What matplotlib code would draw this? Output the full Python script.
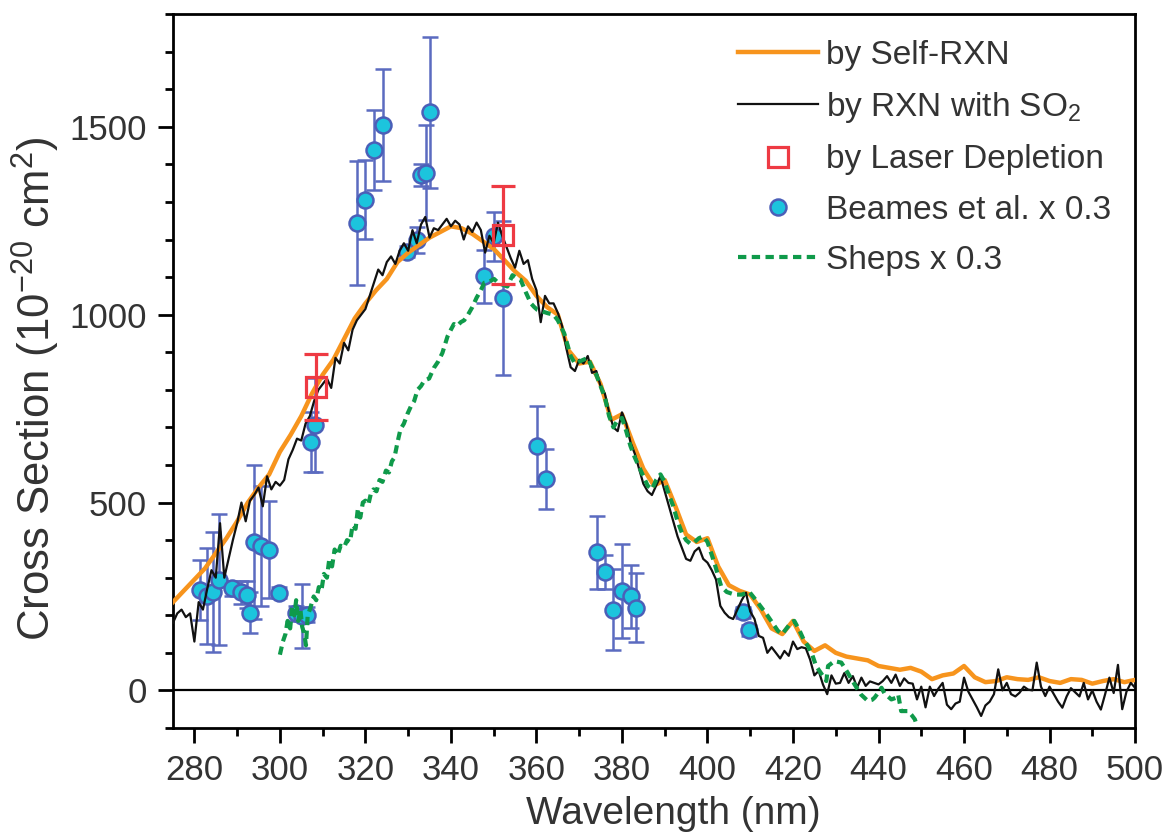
import numpy as np
import matplotlib.pyplot as plt
from matplotlib.lines import Line2D

plt.rcParams['font.family'] = ['Liberation Sans', 'DejaVu Sans']
plt.rcParams['mathtext.fontset'] = 'custom'
plt.rcParams['mathtext.rm'] = 'Liberation Sans'
plt.rcParams['mathtext.it'] = 'Liberation Sans:italic'

TXT = '#333333'

# by Self-RXN (orange), 2.5 nm steps from 275 nm
self_wl = np.arange(275, 500.1, 2.5)
self_cs = [235, 265, 295, 325, 365, 405, 450, 500, 540, 575,
           635, 680, 730, 790, 840, 880, 935, 990, 1030, 1065,
           1095, 1140, 1165, 1185, 1205, 1220, 1235, 1230, 1215, 1195,
           1175, 1145, 1115, 1090, 1050, 1020, 1000, 905, 870, 875,
           815, 720, 735, 660, 590, 545, 560, 490, 415, 395,
           405, 330, 280, 265, 255, 215, 165, 150, 185, 130,
           105, 120, 100, 90, 85, 80, 65, 60, 55, 60,
           50, 30, 40, 45, 65, 35, 22, 25, 35, 30,
           28, 35, 25, 20, 30, 28, 18, 25, 30, 22, 28]

# by RXN with SO2 (black), 1 nm steps from 275 nm
so2_wl = np.arange(275, 501)
so2_cs = [180, 205, 215, 195, 205, 130, 235, 215, 270, 320,
          300, 445, 300, 350, 400, 445, 500, 450, 505, 520,
          540, 490, 570, 535, 555, 545, 560, 615, 640, 670,
          665, 710, 730, 770, 800, 815, 830, 805, 885, 870,
          925, 905, 960, 985, 1000, 1015, 1050, 1085, 1120, 1105,
          1140, 1155, 1135, 1170, 1190, 1170, 1225, 1190, 1240, 1260,
          1205, 1230, 1225, 1240, 1255, 1235, 1250, 1240, 1200, 1235,
          1220, 1245, 1225, 1165, 1210, 1190, 1245, 1210, 1180, 1150,
          1125, 1170, 1135, 1145, 1095, 1065, 980, 1050, 1030, 1030,
          1005, 970, 910, 860, 850, 880, 870, 890, 845, 850,
          810, 790, 740, 700, 690, 740, 710, 660, 630, 590,
          550, 530, 520, 545, 570, 530, 490, 450, 410, 380,
          350, 345, 370, 380, 350, 340, 320, 295, 225, 207,
          195, 190, 215, 240, 260, 210, 190, 145, 140, 100,
          115, 100, 85, 105, 92, 130, 110, 115, 112, 82,
          40, 52, 16, -10, 40, 18, 20, 46, 20, 38,
          8, 34, 12, 24, 20, 16, 25, 38, 20, 42,
          12, 32, 20, 18, -24, 10, -45, 10, -15, 5,
          20, -38, -50, -35, -30, 34, -3, -24, -45, -68,
          -40, -30, -10, 56, 0, 20, -10, -16, -6, 10,
          2, 0, 74, 10, -15, 10, -10, -30, -46, -16,
          6, -5, -16, 20, -24, 0, -30, -51, -10, 34,
          -7, 68, -50, -3, 20, 7]

# Sheps x 0.3 (green dotted)
sheps_wl = [300.0, 300.7, 301.3, 301.8, 302.4, 302.9, 303.4, 303.8, 304.3, 304.8,
            305.2, 305.7, 306.1, 306.5, 307.0, 307.9, 308.5, 309.1, 309.7, 310.3,
            311.0, 311.5, 312.2, 312.8, 313.5, 314.2, 315.0, 315.7, 316.4, 317.0,
            317.7, 318.2, 318.8, 319.4, 320.0, 320.7, 321.3, 321.9, 322.6, 323.3,
            324.0, 324.8, 325.5, 326.2, 326.8, 327.5, 328.2, 329.0, 329.8, 330.6,
            331.4, 332.2, 333.0, 333.8, 334.9, 335.5, 336.0, 337.0, 338.0, 338.6,
            339.2, 340.0, 340.7, 341.5, 342.3, 343.1, 344.0, 345.0, 346.0, 347.0,
            347.8, 349.0, 350.1, 351.0, 352.0, 353.2, 354.4, 355.3, 356.3, 357.5,
            358.7, 359.5, 360.2, 361.5, 362.6, 364.0, 365.0, 366.5, 368.0, 369.0,
            370.0, 371.0, 372.0, 373.0, 374.0, 375.0, 376.0, 377.0, 378.0, 379.0,
            380.0, 381.0, 382.0, 383.0, 384.0, 385.0, 386.0, 387.0, 388.0, 389.0,
            390.0, 391.0, 392.0, 393.0, 394.0, 395.0, 396.0, 397.0, 398.0, 399.0,
            400.0, 401.6, 403.2, 404.5, 406.3, 408.0, 409.8, 411.0, 411.8, 413.0,
            414.1, 415.3, 416.5, 417.5, 418.5, 419.5, 420.3, 421.5, 422.5, 423.5,
            424.5, 425.4, 426.6, 427.8, 428.2, 429.7, 431.3, 432.8, 434.4, 435.9,
            437.5, 438.5, 439.1, 440.0, 440.7, 441.4, 443.0, 444.0, 444.6, 445.3,
            446.9, 447.7, 448.5, 449.0]
sheps_cs = [95, 130, 150, 185, 165, 225, 200, 240, 185, 215,
            170, 150, 120, 200, 215, 250, 240, 275, 265, 310,
            300, 345, 330, 375, 360, 385, 380, 400, 395, 440,
            430, 480, 460, 500, 505, 495, 525, 535, 530, 560,
            555, 585, 580, 610, 620, 660, 695, 710, 735, 755,
            770, 800, 810, 825, 830, 845, 858, 875, 898, 920,
            942, 960, 975, 970, 980, 985, 1000, 1020, 1045, 1065,
            1085, 1088, 1095, 1085, 1080, 1075, 1105, 1098, 1093, 1060,
            1030, 1020, 1013, 1008, 1004, 1000, 985, 950, 890, 870,
            875, 880, 885, 860, 840, 810, 780, 730, 700, 720,
            725, 690, 650, 620, 595, 570, 545, 535, 560, 575,
            555, 520, 490, 450, 420, 400, 390, 395, 405, 410,
            395, 340, 277, 262, 255, 255, 262, 245, 233, 215,
            198, 178, 158, 150, 165, 180, 185, 160, 135, 118,
            95, 65, 45, 25, 65, 78, 74, 47, 16, -11,
            -28, -25, -19, -5, 7, -8, -24, -20, -11, -55,
            -55, -65, -77, -95]

# by Laser Depletion (red squares)
laser_wl = [308.4, 352.1]
laser_cs = [808, 1212]
laser_err = [88, 130]

# Beames et al. x 0.3
beames_wl = [281.4, 283.0, 284.3, 285.8, 288.8, 290.8, 292.3, 293.1, 294.0, 295.5,
             297.4, 299.7, 303.7, 305.2, 306.3, 307.2, 308.3, 318.1, 320.0, 322.0,
             324.0, 329.8, 332.1, 332.9, 334.1, 335.0, 347.8, 350.1, 352.1, 360.2,
             362.2, 374.1, 376.1, 378.0, 380.1, 382.1, 383.3, 408.3, 409.6]
beames_cs = [268, 251, 262, 295, 272, 261, 255, 207, 395, 385,
             375, 260, 205, 198, 202, 662, 707, 1245, 1306, 1439,
             1505, 1168, 1199, 1372, 1378, 1538, 1102, 1208, 1044, 650,
             563, 368, 315, 215, 264, 251, 220, 208, 160]
beames_err = [80, 128, 160, 175, 20, 30, 35, 55, 205, 160,
              130, 15, 20, 85, 20, 80, 125, 165, 105, 106,
              150, 15, 35, 30, 127, 200, 70, 65, 205, 106,
              80, 97, 45, 108, 125, 84, 92, 15, 15]

c_orange = '#f7941d'
c_black = '#111111'
c_green = '#0f9a4a'
c_red = '#ee3a43'
c_cyan = '#1cc4dd'
c_blue = '#4b5fb8'

fig = plt.figure(figsize=(11.65, 8.36), dpi=100)
ax = fig.add_axes([0.1485, 0.1292, 0.8258, 0.854])

ax.axhline(0, color='black', lw=1.6, zorder=1)

ax.errorbar(beames_wl, beames_cs, yerr=beames_err, fmt='o', ms=11.5,
            mfc=c_cyan, mec=c_blue, mew=1.8, ecolor='#5b6bc0', elinewidth=1.8,
            capsize=5.5, capthick=1.8, zorder=2)
ax.plot(self_wl, self_cs, color=c_orange, lw=3.2, zorder=3)
ax.plot(so2_wl, so2_cs, color=c_black, lw=1.6, zorder=4)
ax.plot(sheps_wl, sheps_cs, color=c_green, lw=3, ls=(0, (2, 1.3)), zorder=5)
ax.errorbar(laser_wl, laser_cs, yerr=laser_err, fmt='s', ms=15,
            mfc='none', mec=c_red, mew=2.3, ecolor=c_red, elinewidth=2.3,
            capsize=8.5, capthick=2.3, zorder=6)

ax.set_xlim(275, 500)
ax.set_ylim(-100, 1800)
ax.set_xticks(np.arange(280, 501, 20))
ax.set_xticks(np.arange(290, 500, 20), minor=True)
ax.set_yticks([0, 500, 1000, 1500])
ax.set_yticks(np.arange(-100, 1801, 100), minor=True)
ax.tick_params(which='both', direction='out', width=2, colors='black',
               labelcolor=TXT, labelsize=25, top=False, right=False)
ax.tick_params(which='major', length=11, pad=8)
ax.tick_params(which='minor', length=6)
for s in ax.spines.values():
    s.set_linewidth(2)

ax.set_xlabel('Wavelength (nm)', fontsize=28, color=TXT, labelpad=8)
ax.xaxis.set_label_coords(0.52, -0.095)
ax.set_ylabel(r'Cross Section (10$^{-20}$ cm$^{2}$)', fontsize=31.5, color=TXT)
ax.yaxis.set_label_coords(-0.115, 0.475)

handles = [
    Line2D([], [], color=c_orange, lw=3.2),
    Line2D([], [], color=c_black, lw=1.6),
    Line2D([], [], ls='none', marker='s', ms=15, mfc='none', mec=c_red, mew=2.3),
    Line2D([], [], ls='none', marker='o', ms=11.5, mfc=c_cyan, mec=c_blue, mew=1.8),
    Line2D([], [], color=c_green, lw=3, ls=(0, (2, 1.3))),
]
labels = ['by Self-RXN', r'by RXN with SO$_2$', 'by Laser Depletion',
          'Beames et al. x 0.3', 'Sheps x 0.3']
leg = ax.legend(handles, labels, loc='upper left', bbox_to_anchor=(0.587, 0.964),
                frameon=False, fontsize=24, handlelength=2.4, handletextpad=0.25,
                labelspacing=0.58, borderpad=0, borderaxespad=0)
for t in leg.get_texts():
    t.set_color(TXT)

fig.savefig('out.png', dpi=100)
